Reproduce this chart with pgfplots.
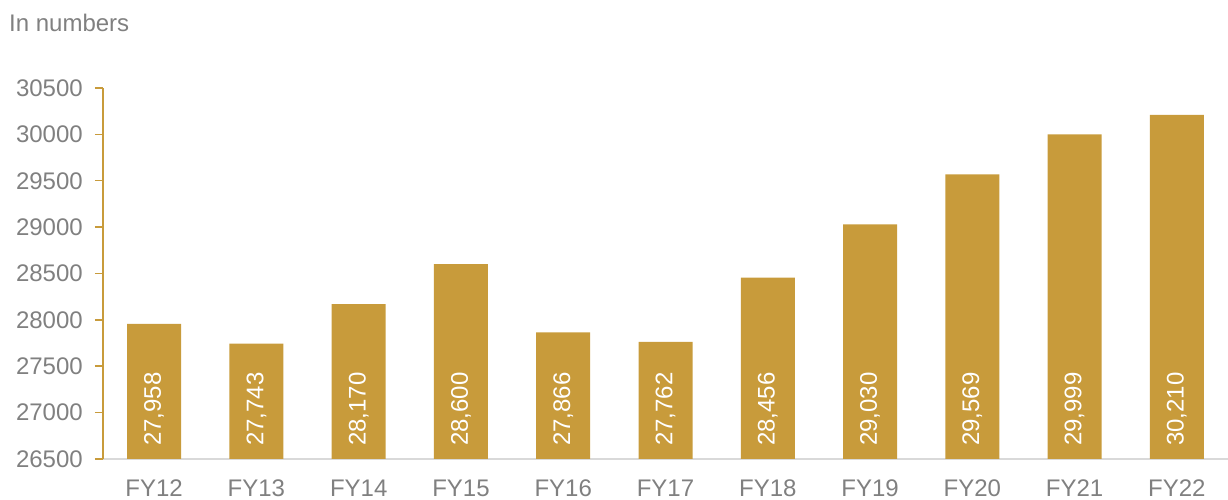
\documentclass[border=0pt]{standalone}
\usepackage{pgfplots}
\pgfplotsset{compat=1.18}
\usepackage{fontspec}
\setmainfont{Liberation Sans}
\definecolor{gold}{RGB}{200,155,59}
\definecolor{txtgray}{RGB}{128,128,128}
\definecolor{axgray}{RGB}{217,217,217}
\begin{document}
\begin{tikzpicture}
\fontsize{24}{28}\selectfont
\begin{axis}[
  scale only axis, width=1125pt, height=371pt,
  at={(0,0)}, anchor=south west,
  xmin=-0.5, xmax=10.5, ymin=26500, ymax=30500,
  ytick={26500,27000,...,30500},
  scaled y ticks=false,
  xtick={0,...,10},
  xticklabels={FY12,FY13,FY14,FY15,FY16,FY17,FY18,FY19,FY20,FY21,FY22},
  axis x line=bottom, axis y line=left,
  axis line style={-},
  x axis line style={draw=axgray, line width=1.5pt},
  y axis line style={draw=gold, line width=1.5pt},
  xtick style={draw=none},
  ytick style={draw=gold, line width=1.5pt},
  tick align=outside, major tick length=8pt,
  /pgf/number format/assume math mode=true,
  yticklabel style={/pgf/number format/fixed, /pgf/number format/precision=0, /pgf/number format/1000 sep={}, text=txtgray, inner sep=0pt, xshift=-12pt, font=\fontsize{24}{28}\selectfont},
  xticklabel style={text=txtgray, inner sep=0pt, yshift=-13pt, font=\fontsize{24}{28}\selectfont},
  clip=false,
]
\addplot[ybar, bar width=54pt, fill=gold, draw=none] coordinates {
  (0,27958) (1,27743) (2,28170) (3,28600) (4,27866) (5,27762)
  (6,28456) (7,29030) (8,29569) (9,29999) (10,30210)
};
\addplot[draw=none, mark=none, point meta=explicit,
  nodes near coords={\pgfmathprintnumber[fixed, precision=0, 1000 sep={,}, assume math mode=true]{\pgfplotspointmeta}},
  nodes near coords style={rotate=90, anchor=west, inner sep=0pt, text=white, font=\fontsize{24}{28}\selectfont}]
  coordinates {
  (0,26640) [27958] (1,26640) [27743] (2,26640) [28170] (3,26640) [28600]
  (4,26640) [27866] (5,26640) [27762] (6,26640) [28456] (7,26640) [29030]
  (8,26640) [29569] (9,26640) [29999] (10,26640) [30210]
};
\end{axis}
\node[anchor=base west, text=txtgray, inner sep=0pt] at (-94pt,427pt) {In numbers};
\pgfresetboundingbox
\path (-103pt,-41pt) rectangle (1125pt,459pt);
\end{tikzpicture}
\end{document}
